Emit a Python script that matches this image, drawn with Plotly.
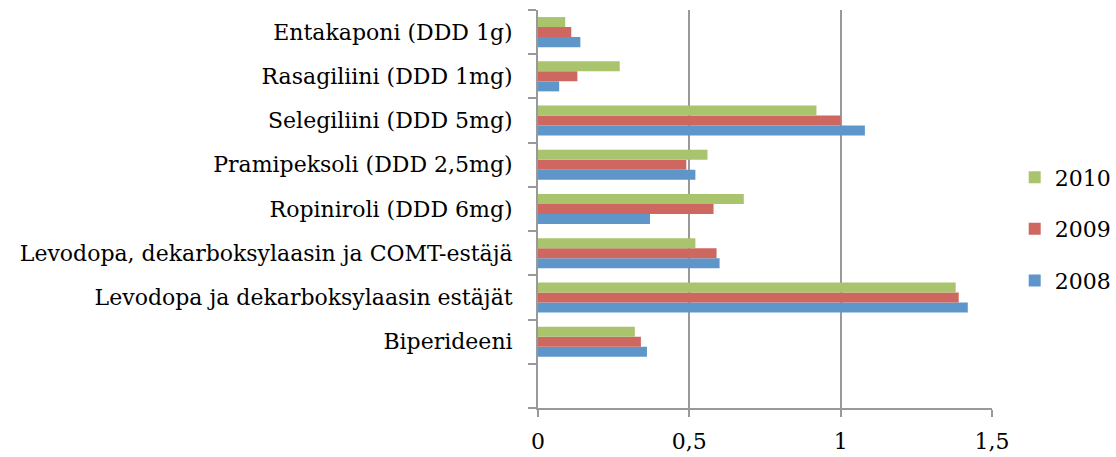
import plotly.graph_objects as go

# Categories, bottom to top (a blank slot sits below the first drug)
categories = [
    " ",
    "Biperideeni",
    "Levodopa ja dekarboksylaasin estäjät",
    "Levodopa, dekarboksylaasin ja COMT-estäjä",
    "Ropiniroli (DDD 6mg)",
    "Pramipeksoli (DDD 2,5mg)",
    "Selegiliini (DDD 5mg)",
    "Rasagiliini (DDD 1mg)",
    "Entakaponi (DDD 1g)",
]

values_2008 = [None, 0.36, 1.42, 0.60, 0.37, 0.52, 1.08, 0.07, 0.14]
values_2009 = [None, 0.34, 1.39, 0.59, 0.58, 0.49, 1.00, 0.13, 0.11]
values_2010 = [None, 0.32, 1.38, 0.52, 0.68, 0.56, 0.92, 0.27, 0.09]

x_ticks = [0, 0.5, 1, 1.5]

# (name, values, colour, legend position from the top)
series = [
    ("2008", values_2008, "#5F96CA", 3),
    ("2009", values_2009, "#CE6760", 2),
    ("2010", values_2010, "#A9C46C", 1),
]

FONT = "DejaVu Serif"
GRID = "#999999"

fig = go.Figure()
for name, vals, color, rank in series:
    fig.add_trace(go.Bar(
        y=categories, x=vals, name=name, orientation="h",
        marker=dict(color=color, line=dict(width=0)),
        legendgroup=name, legendrank=rank,
    ))

fig.update_layout(
    barmode="group",
    bargap=0.32,
    bargroupgap=0,
    separators=", ",
    width=1116, height=457,
    margin=dict(l=538, r=124, t=10, b=49, pad=0, autoexpand=False),
    paper_bgcolor="white",
    plot_bgcolor="white",
    font=dict(family=FONT, size=22, color="black"),
    showlegend=True,
    legend=dict(
        x=1.05, xanchor="left", y=0.45, yanchor="middle",
        traceorder="grouped", tracegroupgap=20,
        font=dict(family=FONT, size=22),
        itemwidth=30,
    ),
    xaxis=dict(
        range=[0, 1.5], tickvals=x_ticks,
        showgrid=True, gridcolor=GRID, gridwidth=2,
        showline=True, linecolor=GRID, linewidth=2,
        ticks="outside", ticklen=7, tickcolor=GRID, tickwidth=2,
        zeroline=False, ticklabelstandoff=6,
    ),
    yaxis=dict(
        categoryorder="array", categoryarray=categories,
        showline=True, linecolor=GRID, linewidth=2,
        ticks="outside", ticklen=8, tickcolor=GRID, tickwidth=2,
        tickson="boundaries", showgrid=False,
        ticklabelstandoff=19,
    ),
)

fig.write_html("out.html")
